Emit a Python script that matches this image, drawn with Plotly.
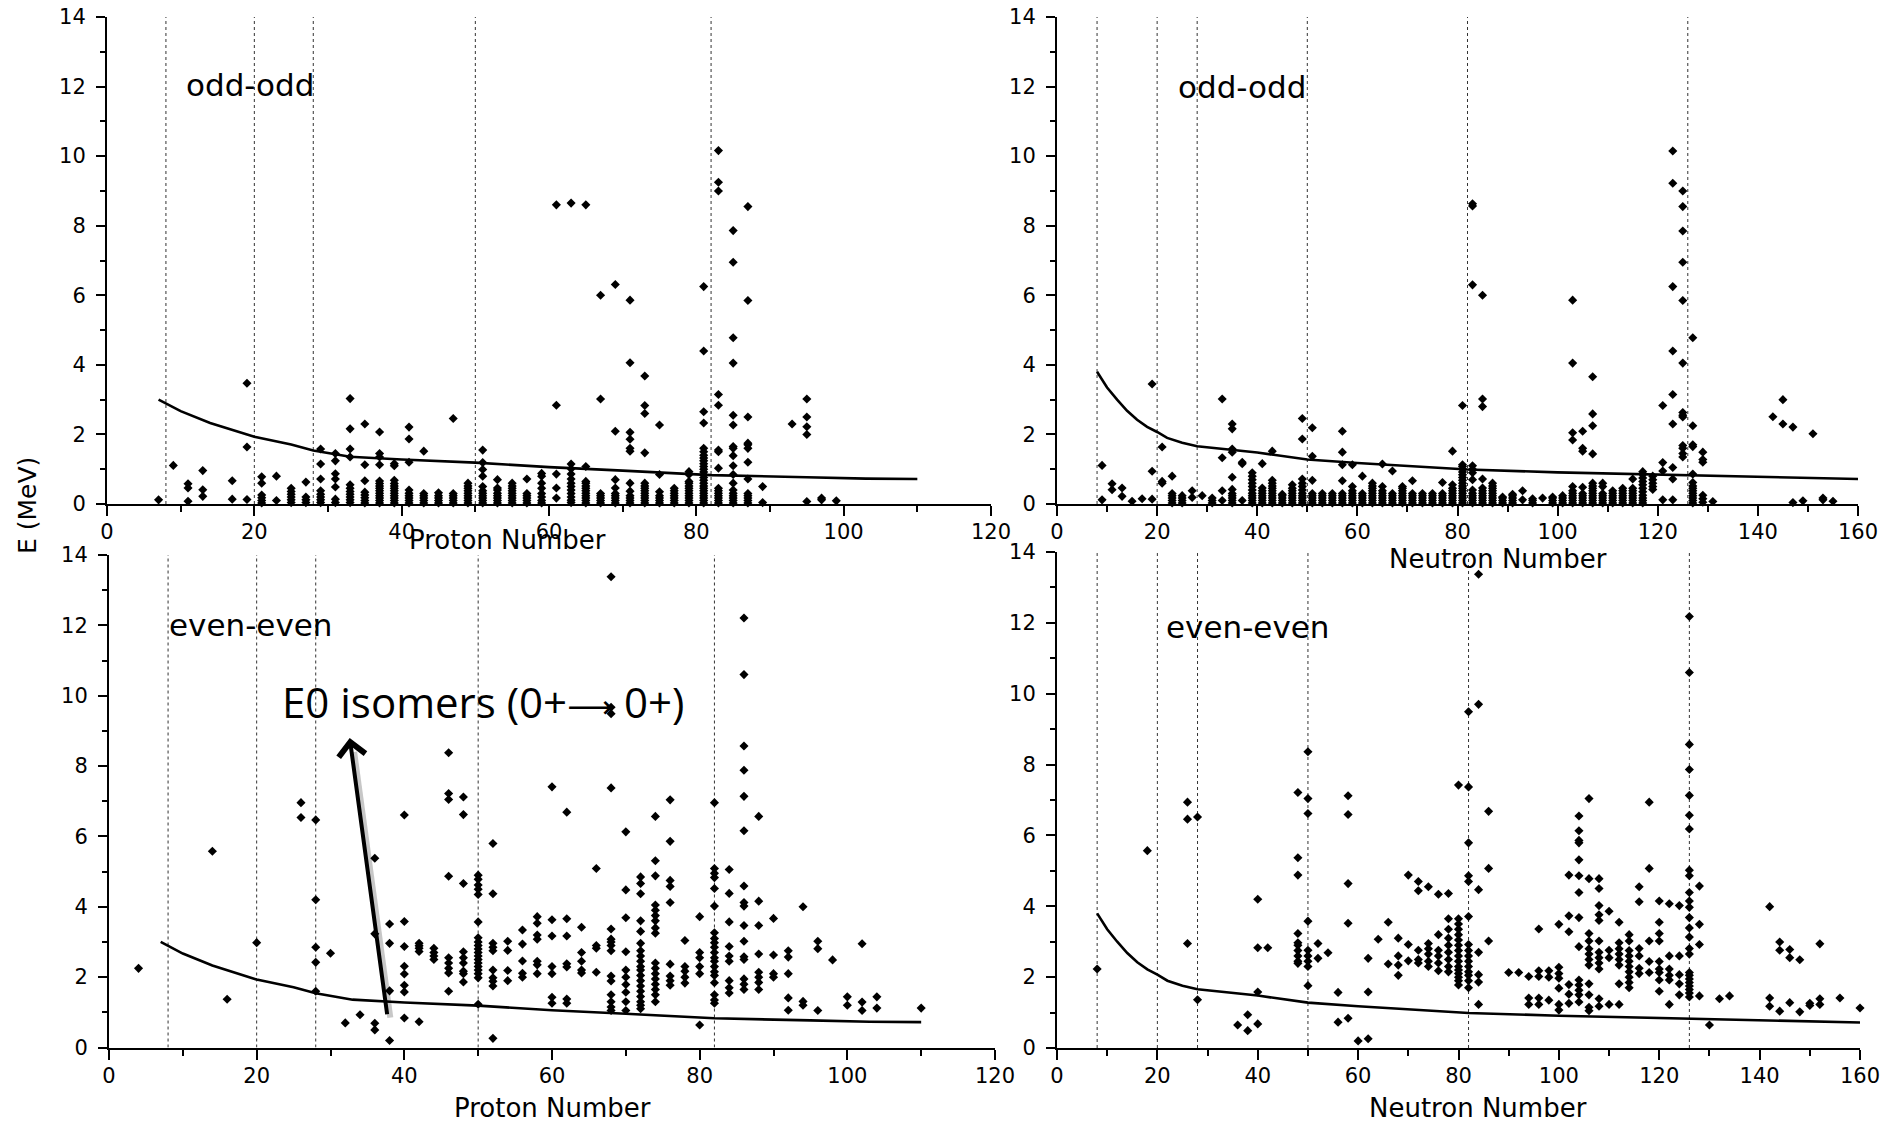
import plotly.graph_objects as go

W, H = 1895, 1124

# ---------------- data: isomer excitation energies (MeV) ----------------
# each entry: (proton or neutron number, [energies at that number])
odd_odd_z = [
    (7, [0.12]), (9, [1.11]), (11, [0.08, 0.46, 0.58]), (13, [0.22, 0.41, 0.96]),
    (17, [0.14, 0.67]), (19, [0.13, 1.64, 3.47]),
    (21, [0.03, 0.1, 0.18, 0.26, 0.6, 0.78]), (23, [0.1, 0.8]),
    (25, [0.04, 0.12, 0.2, 0.28, 0.36, 0.45]), (27, [0.04, 0.12, 0.2, 0.63]),
    (29, [0.04, 0.12, 0.2, 0.28, 0.38, 0.72, 1.15, 1.58]),
    (31, [0.04, 0.14, 0.49, 0.72, 0.87, 1.24, 1.45]),
    (33, [0.04, 0.12, 0.2, 0.28, 0.36, 0.45, 0.55, 1.35, 1.58, 2.16, 3.03]),
    (35, [0.03, 0.1, 0.18, 0.26, 0.34, 0.67, 1.13, 2.3]),
    (37, [0.03, 0.1, 0.17, 0.24, 0.31, 0.38, 0.45, 0.52, 0.59, 0.66, 1.13, 1.35, 1.45, 2.07]),
    (39, [0.03, 0.1, 0.17, 0.24, 0.31, 0.38, 0.45, 0.52, 0.59, 0.68, 1.1, 1.16]),
    (41, [0.03, 0.1, 0.17, 0.24, 0.31, 0.4, 1.2, 1.87, 2.21]),
    (43, [0.03, 0.1, 0.17, 0.24, 0.3, 1.52]),
    (45, [0.03, 0.1, 0.17, 0.24, 0.32]),
    (47, [0.03, 0.1, 0.17, 0.24, 0.3, 2.46]),
    (49, [0.03, 0.1, 0.17, 0.24, 0.31, 0.38, 0.45, 0.52, 0.6]),
    (51, [0.03, 0.1, 0.17, 0.24, 0.31, 0.38, 0.5, 0.8, 0.99, 1.19, 1.55]),
    (53, [0.03, 0.1, 0.17, 0.24, 0.31, 0.4, 0.46, 0.7]),
    (55, [0.03, 0.1, 0.17, 0.24, 0.31, 0.38, 0.45, 0.52, 0.6]),
    (57, [0.03, 0.1, 0.17, 0.24, 0.3, 0.72]),
    (59, [0.03, 0.1, 0.2, 0.3, 0.45, 0.6, 0.8, 0.88]),
    (61, [0.17, 0.46, 0.86, 2.84, 8.6]),
    (63, [0.04, 0.11, 0.2, 0.3, 0.4, 0.5, 0.6, 0.72, 0.86, 1.01, 1.15, 8.65]),
    (65, [0.03, 0.1, 0.17, 0.24, 0.31, 0.38, 0.45, 0.52, 0.6, 0.65, 1.08, 8.6]),
    (67, [0.03, 0.1, 0.17, 0.24, 0.3, 3.02, 6.0]),
    (69, [0.03, 0.1, 0.17, 0.24, 0.3, 0.46, 0.7, 2.09, 6.31]),
    (71, [0.03, 0.1, 0.17, 0.24, 0.37, 0.6, 1.52, 1.6, 1.86, 2.06, 4.06, 5.86]),
    (73, [0.03, 0.1, 0.17, 0.24, 0.31, 0.38, 0.45, 0.52, 0.6, 1.47, 2.6, 2.83, 3.68]),
    (75, [0.03, 0.1, 0.17, 0.24, 0.35, 0.85, 2.27]),
    (77, [0.03, 0.1, 0.17, 0.24, 0.31, 0.38, 0.45]),
    (79, [0.03, 0.1, 0.17, 0.24, 0.31, 0.38, 0.45, 0.52, 0.6, 0.65, 0.85, 0.93]),
    (81, [0.03, 0.1, 0.17, 0.24, 0.31, 0.38, 0.45, 0.52, 0.6, 0.68, 0.76, 0.84, 0.92, 1.0,
          1.08, 1.16, 1.24, 1.32, 1.4, 1.5, 1.6, 2.33, 2.65, 4.4, 6.25]),
    (83, [0.03, 0.1, 0.17, 0.24, 0.31, 0.38, 0.45, 1.03, 1.5, 1.55, 2.84, 3.15, 9.0, 9.25, 10.16]),
    (85, [0.03, 0.1, 0.17, 0.24, 0.31, 0.4, 0.6, 0.85, 1.1, 1.39, 1.6, 1.65, 2.27, 2.55,
          4.05, 4.78, 6.95, 7.86]),
    (87, [0.03, 0.1, 0.17, 0.24, 0.3, 0.72, 1.2, 1.6, 1.7, 1.75, 2.5, 5.85, 8.55]),
    (89, [0.04, 0.5]), (93, [2.3]), (95, [0.07, 2.0, 2.22, 2.5, 3.02]),
    (97, [0.12, 0.17]), (99, [0.09]),
]

odd_odd_n = [
    (9, [0.12, 1.11]), (11, [0.41, 0.58]), (13, [0.22, 0.46]), (15, [0.08]), (17, [0.15]),
    (19, [0.14, 0.94, 3.45]), (21, [0.6, 0.65, 1.64]),
    (23, [0.03, 0.1, 0.17, 0.24, 0.3, 0.8]), (25, [0.03, 0.1, 0.17, 0.24]),
    (27, [0.19, 0.38]), (29, [0.24]), (31, [0.03, 0.1, 0.17]),
    (33, [0.1, 0.38, 1.33, 3.02]),
    (35, [0.03, 0.1, 0.17, 0.24, 0.3, 0.42, 0.77, 1.49, 1.58, 2.16, 2.3]),
    (37, [0.1, 1.16, 1.2]),
    (39, [0.03, 0.1, 0.17, 0.24, 0.31, 0.4, 0.5, 0.6, 0.7, 0.8, 0.9]),
    (41, [0.03, 0.1, 0.17, 0.24, 0.31, 0.38, 0.46, 1.16]),
    (43, [0.03, 0.1, 0.17, 0.24, 0.31, 0.38, 0.45, 0.52, 0.6, 0.68, 1.52]),
    (45, [0.03, 0.1, 0.17, 0.24, 0.28]),
    (47, [0.03, 0.1, 0.17, 0.24, 0.31, 0.38, 0.45, 0.55]),
    (49, [0.03, 0.1, 0.17, 0.24, 0.31, 0.4, 0.5, 0.6, 0.72, 1.87, 2.46]),
    (51, [0.03, 0.1, 0.17, 0.24, 0.3, 0.68, 1.37, 2.19]),
    (53, [0.03, 0.1, 0.17, 0.24, 0.3]), (55, [0.03, 0.1, 0.17, 0.24, 0.3]),
    (57, [0.03, 0.1, 0.17, 0.24, 0.3, 0.67, 1.13, 1.49, 2.09]),
    (59, [0.03, 0.1, 0.17, 0.24, 0.31, 0.38, 0.5, 1.13]),
    (61, [0.03, 0.1, 0.17, 0.24, 0.3, 0.8]),
    (63, [0.03, 0.1, 0.17, 0.24, 0.31, 0.38, 0.45, 0.52, 0.6]),
    (65, [0.03, 0.1, 0.17, 0.24, 0.31, 0.38, 0.5, 1.15]),
    (67, [0.03, 0.1, 0.17, 0.24, 0.3, 0.95]),
    (69, [0.03, 0.1, 0.17, 0.24, 0.31, 0.38, 0.45, 0.5]),
    (71, [0.03, 0.1, 0.17, 0.24, 0.3, 0.67]),
    (73, [0.03, 0.1, 0.17, 0.24, 0.3]), (75, [0.03, 0.1, 0.17, 0.24, 0.3]),
    (77, [0.03, 0.1, 0.17, 0.24, 0.3, 0.62]),
    (79, [0.03, 0.1, 0.17, 0.24, 0.31, 0.38, 0.45, 0.55, 1.52]),
    (81, [0.03, 0.1, 0.17, 0.24, 0.31, 0.38, 0.45, 0.52, 0.6, 0.68, 0.76, 0.84, 0.92, 1.0,
          1.08, 1.13, 2.83]),
    (83, [0.03, 0.1, 0.17, 0.24, 0.31, 0.4, 0.7, 0.9, 1.0, 1.1, 6.3, 8.57, 8.63]),
    (85, [0.03, 0.1, 0.17, 0.24, 0.31, 0.38, 0.46, 0.72, 2.8, 3.02, 6.0]),
    (87, [0.03, 0.1, 0.17, 0.24, 0.31, 0.38, 0.45, 0.52, 0.6]),
    (89, [0.03, 0.1, 0.17, 0.2]), (91, [0.03, 0.1, 0.17, 0.24, 0.28]),
    (93, [0.12, 0.38]), (95, [0.03, 0.1, 0.15]), (97, [0.17]),
    (99, [0.03, 0.1, 0.17, 0.2]), (101, [0.03, 0.1, 0.17, 0.24]),
    (103, [0.03, 0.1, 0.17, 0.24, 0.31, 0.38, 0.5, 1.84, 2.05, 4.05, 5.86]),
    (105, [0.03, 0.1, 0.17, 0.24, 0.3, 0.48, 1.52, 1.6, 2.09]),
    (107, [0.03, 0.1, 0.17, 0.24, 0.31, 0.38, 0.45, 0.52, 0.6, 1.44, 2.25, 2.59, 3.66]),
    (109, [0.03, 0.1, 0.17, 0.24, 0.3, 0.5, 0.6]),
    (111, [0.03, 0.1, 0.17, 0.24, 0.31, 0.38]),
    (113, [0.03, 0.1, 0.17, 0.24, 0.31, 0.38, 0.45]),
    (115, [0.03, 0.1, 0.17, 0.24, 0.31, 0.38, 0.45, 0.72]),
    (117, [0.03, 0.1, 0.17, 0.25, 0.35, 0.45, 0.55, 0.65, 0.75, 0.85, 0.93]),
    (119, [0.42, 0.5, 0.6, 0.7, 0.8]),
    (121, [0.12, 0.95, 1.19, 2.83]),
    (123, [0.12, 0.72, 1.05, 2.3, 3.15, 4.4, 6.25, 9.22, 10.15]),
    (125, [1.35, 1.45, 1.6, 1.68, 2.5, 2.55, 2.63, 4.05, 5.85, 6.95, 7.85, 8.55, 9.0]),
    (127, [0.03, 0.1, 0.17, 0.24, 0.31, 0.38, 0.45, 0.52, 0.62, 0.86, 1.65, 1.7, 2.25, 4.78]),
    (129, [0.05, 0.15, 0.25, 1.2, 1.28, 1.49]), (131, [0.07]),
    (143, [2.51]), (145, [2.3, 3.0]), (147, [0.04, 2.21]), (149, [0.09]),
    (151, [2.02]), (153, [0.12, 0.17]), (155, [0.08]),
]

even_even_z = [
    (4, [2.25]), (14, [5.58]), (16, [1.37]), (20, [2.98]), (26, [6.54, 6.96]),
    (28, [1.6, 2.42, 2.85, 4.2, 6.47]), (30, [2.68]), (32, [0.7]), (34, [0.93]),
    (36, [0.5, 0.69, 3.23, 5.38]), (38, [0.2, 1.61, 2.96, 3.51]),
    (40, [0.84, 1.58, 1.77, 2.09, 2.31, 2.87, 3.58, 6.61]),
    (42, [0.73, 2.73, 2.82, 2.89, 2.96]), (44, [2.5, 2.6, 2.7, 2.82]),
    (46, [1.6, 2.12, 2.25, 2.4, 2.55, 4.87, 7.05, 7.22, 8.38]),
    (48, [1.86, 2.1, 2.17, 2.4, 2.55, 2.72, 4.66, 6.62, 7.12]),
    (50, [1.23, 1.98, 2.1, 2.2, 2.3, 2.4, 2.5, 2.6, 2.7, 2.8, 2.9, 3.0, 3.12, 3.57,
          4.35, 4.5, 4.62, 4.78, 4.9]),
    (52, [0.26, 1.75, 1.88, 1.98, 2.2, 2.75, 2.85, 2.96, 4.37, 5.8]),
    (54, [1.9, 2.19, 2.76, 3.02]), (56, [2.0, 2.11, 2.46, 2.94, 3.34]),
    (58, [2.1, 2.35, 2.45, 3.08, 3.2, 3.53, 3.72]),
    (60, [1.26, 1.43, 2.1, 2.3, 3.17, 3.63, 7.41]),
    (62, [1.26, 1.38, 2.29, 2.38, 3.17, 3.66, 6.69]),
    (64, [2.12, 2.2, 2.45, 2.7, 3.42]), (66, [2.14, 2.82, 2.9, 5.09]),
    (68, [1.05, 1.15, 1.3, 1.5, 1.89, 2.03, 2.75, 2.9, 3.0, 3.08, 3.37, 7.38, 9.49, 9.67, 13.38]),
    (70, [1.05, 1.3, 1.57, 1.79, 2.0, 2.2, 2.72, 3.69, 4.48, 6.13]),
    (72, [1.1, 1.2, 1.3, 1.45, 1.6, 1.75, 1.9, 2.05, 2.2, 2.3, 2.45, 2.6, 2.75, 2.96,
          3.3, 3.6, 4.37, 4.66, 4.85]),
    (74, [1.3, 1.5, 1.65, 1.8, 1.95, 2.1, 2.25, 2.4, 3.25, 3.4, 3.6, 3.75, 3.9, 4.05,
          4.88, 5.31, 6.57]),
    (76, [1.77, 1.9, 2.03, 2.37, 4.12, 4.58, 4.75, 5.86, 7.04]),
    (78, [1.83, 2.0, 2.17, 2.3, 3.04]), (80, [0.64, 2.1, 2.3, 2.55, 2.7, 3.72]),
    (82, [1.26, 1.35, 1.5, 1.84, 2.05, 2.15, 2.3, 2.45, 2.55, 2.7, 2.85, 2.98, 3.1, 3.26,
          4.02, 4.52, 4.83, 4.95, 5.09, 6.96]),
    (84, [1.55, 1.7, 1.9, 2.45, 2.6, 2.87, 3.57, 4.38, 5.06]),
    (86, [1.65, 1.8, 1.95, 2.5, 2.58, 3.02, 3.47, 4.02, 4.12, 4.59, 6.16, 7.14, 7.88,
          8.57, 10.6, 12.21]),
    (88, [1.65, 1.85, 2.0, 2.14, 2.66, 3.47, 4.16, 6.57]),
    (90, [2.0, 2.1, 2.63, 3.67]), (92, [1.06, 1.41, 2.1, 2.57, 2.75]),
    (94, [1.2, 1.31, 4.0]), (96, [1.05, 2.81, 3.02]), (98, [2.49]),
    (100, [1.2, 1.44]), (102, [1.05, 1.29, 2.95]), (104, [1.12, 1.44]), (110, [1.12]),
]

even_even_n = [
    (8, [2.23]), (18, [5.57]), (26, [2.95, 6.46, 6.94]), (28, [1.36, 6.52]),
    (36, [0.65]), (38, [0.49, 0.94]), (40, [0.68, 1.58, 2.83, 4.2]), (42, [2.83]),
    (48, [2.39, 2.45, 2.6, 2.75, 2.9, 2.97, 3.23, 4.88, 5.37, 7.21]),
    (50, [1.76, 2.3, 2.45, 2.6, 2.76, 3.58, 6.62, 7.04, 8.36]),
    (52, [2.53, 2.95]), (54, [2.69]), (56, [0.73, 1.57]),
    (58, [0.84, 3.52, 4.64, 6.59, 7.12]), (60, [0.2]), (62, [0.26, 1.58, 2.53]),
    (64, [3.07]), (66, [2.37, 3.55]), (68, [2.05, 2.34, 2.6, 3.1]),
    (70, [2.46, 2.92, 4.88]), (72, [2.4, 2.5, 2.76, 4.44, 4.7]),
    (74, [2.3, 2.45, 2.65, 2.8, 2.95, 4.55]), (76, [2.18, 2.4, 2.6, 2.76, 3.2, 4.34]),
    (78, [2.15, 2.3, 2.5, 2.7, 2.9, 3.1, 3.35, 3.65, 4.36]),
    (80, [1.78, 1.9, 2.0, 2.1, 2.2, 2.3, 2.45, 2.6, 2.75, 2.9, 3.05, 3.2, 3.35, 3.5,
          3.65, 7.42]),
    (82, [1.7, 1.9, 2.05, 2.15, 2.3, 2.45, 2.6, 2.75, 2.92, 3.71, 4.7, 4.86, 5.79, 7.37, 9.49]),
    (84, [1.23, 1.86, 2.07, 2.7, 4.47, 9.7, 13.37]), (86, [3.02, 5.07, 6.68]),
    (90, [2.13]), (92, [2.13]), (94, [1.23, 1.41, 2.02]),
    (96, [1.23, 1.41, 2.02, 2.18, 3.36]), (98, [1.35, 2.0, 2.18]),
    (100, [1.07, 1.23, 1.69, 1.97, 2.1, 2.28, 3.49]),
    (102, [1.26, 1.52, 1.79, 3.28, 3.73, 4.88]),
    (104, [1.3, 1.5, 1.63, 1.78, 1.92, 2.86, 3.68, 4.39, 4.86, 5.31, 5.79, 5.86, 6.13, 6.55]),
    (106, [1.05, 1.15, 1.5, 1.81, 2.34, 2.5, 2.65, 2.8, 3.02, 3.23, 4.78, 7.04]),
    (108, [1.18, 1.39, 2.23, 2.4, 2.55, 2.7, 3.02, 3.6, 3.76, 4.02, 4.5, 4.78]),
    (110, [1.23, 2.55, 2.76, 3.86]),
    (112, [1.23, 1.81, 2.34, 2.5, 2.65, 2.8, 2.97, 3.55]),
    (114, [1.7, 1.85, 2.0, 2.15, 2.3, 2.45, 2.6, 2.75, 3.02, 3.2]),
    (116, [2.1, 2.25, 2.6, 2.81, 4.13, 4.55]), (118, [2.13, 2.44, 3.02, 5.07, 6.94]),
    (120, [1.6, 1.92, 2.13, 2.23, 2.44, 3.02, 3.23, 3.55, 4.15]),
    (122, [1.23, 1.92, 2.05, 2.23, 2.6, 4.07]), (124, [1.5, 1.81, 2.07, 2.6, 4.02]),
    (126, [1.44, 1.55, 1.65, 1.75, 1.85, 1.95, 2.05, 2.13, 2.65, 2.81, 3.13, 3.39, 3.68,
           3.97, 4.15, 4.39, 4.86, 5.02, 6.18, 6.57, 7.13, 7.86, 8.57, 10.6, 12.18]),
    (128, [1.47, 2.92, 3.49, 4.57]), (130, [0.65]), (132, [1.39]), (134, [1.47]),
    (142, [1.18, 1.41, 3.99]), (144, [1.04, 2.76, 2.99]), (146, [1.28, 2.55, 2.78]),
    (148, [1.02, 2.49]), (150, [1.2, 1.26]), (152, [1.23, 1.39, 2.94]),
    (156, [1.41]), (160, [1.13]),
]

# reference curves
curve_z_x = [7, 10, 14, 20, 25, 28, 33, 40, 50, 60, 70, 82, 95, 103, 110]
curve_z_e = [3.0, 2.67, 2.33, 1.93, 1.71, 1.54, 1.36, 1.28, 1.19, 1.06, 0.96, 0.83, 0.77, 0.73, 0.72]
curve_n_x = [8, 10, 12, 14, 16, 18, 20, 22, 25, 28, 40, 50, 60, 70, 82, 100, 126, 140, 160]
curve_n_e = [3.8, 3.35, 3.0, 2.68, 2.42, 2.22, 2.07, 1.9, 1.76, 1.66, 1.48, 1.28, 1.18, 1.1,
             0.99, 0.91, 0.82, 0.78, 0.72]

# shell closures
magic_z = [8, 20, 28, 50, 82]
magic_n = [8, 20, 28, 50, 82, 126]


def flatten(cols):
    xs, ys = [], []
    for x, energies in cols:
        for e in energies:
            xs.append(x)
            ys.append(e)
    return xs, ys


FONT = "DejaVu Sans"
fig = go.Figure()

panels = [
    # (columns, curve x, curve y, magic numbers, axis suffix)
    (odd_odd_z, curve_z_x, curve_z_e, magic_z, ""),
    (odd_odd_n, curve_n_x, curve_n_e, magic_n, "2"),
    (even_even_z, curve_z_x, curve_z_e, magic_z, "3"),
    (even_even_n, curve_n_x, curve_n_e, magic_n, "4"),
]

shapes = []
for cols, cx, cy, magic, sfx in panels:
    xs, ys = flatten(cols)
    fig.add_trace(go.Scatter(
        x=xs, y=ys, mode="markers", xaxis="x" + sfx, yaxis="y" + sfx,
        marker=dict(symbol="diamond", size=7, color="black", line=dict(width=0)),
        cliponaxis=False, showlegend=False, hoverinfo="skip"))
    fig.add_trace(go.Scatter(
        x=cx, y=cy, mode="lines", xaxis="x" + sfx, yaxis="y" + sfx,
        line=dict(color="black", width=2.6), showlegend=False, hoverinfo="skip"))
    for m in magic:
        shapes.append(dict(type="line", xref="x" + sfx, yref="y" + sfx,
                           x0=m, x1=m, y0=0, y1=14, layer="below",
                           line=dict(color="#333", width=1, dash="3px,3px")))


def xax(domain, xmax):
    return dict(domain=domain, range=[0, xmax], tick0=0, dtick=20,
                showgrid=False, zeroline=False, showline=True, linecolor="black",
                linewidth=2, ticks="outside", ticklen=10, tickwidth=1.5, tickcolor="black",
                minor=dict(dtick=10, ticklen=6, tickwidth=1.5, tickcolor="black",
                           ticks="outside", showgrid=False),
                ticklabelstandoff=-2,
                tickfont=dict(family=FONT, size=21, color="black"), fixedrange=True)


def yax(domain, anchor):
    return dict(domain=domain, range=[0, 14], tick0=0, dtick=2, anchor=anchor,
                showgrid=False, zeroline=False, showline=True, linecolor="black",
                linewidth=2, ticks="outside", ticklen=9, tickwidth=1.5, tickcolor="black",
                minor=dict(dtick=1, ticklen=5, tickwidth=1.5, tickcolor="black",
                           ticks="outside", showgrid=False),
                ticklabelstandoff=6,
                tickfont=dict(family=FONT, size=21, color="black"), fixedrange=True)


def px_x(a, b):
    return [a / W, b / W]


def px_y(top, bottom):
    return [1 - bottom / H, 1 - top / H]


layout = dict(
    width=W, height=H, margin=dict(l=0, r=0, t=0, b=0, autoexpand=False),
    paper_bgcolor="white", plot_bgcolor="white", showlegend=False,
    xaxis=dict(**xax(px_x(107, 991), 120), anchor="y"),
    yaxis=yax(px_y(17, 504), "x"),
    xaxis2=dict(**xax(px_x(1057, 1858), 160), anchor="y2"),
    yaxis2=yax(px_y(17, 504), "x2"),
    xaxis3=dict(**xax(px_x(109, 995), 120), anchor="y3"),
    yaxis3=yax(px_y(555, 1047.5), "x3"),
    xaxis4=dict(**xax(px_x(1057, 1860), 160), anchor="y4"),
    yaxis4=yax(px_y(552, 1048), "x4"),
)

# arrow shadow
shapes.append(dict(type="line", xref="x3", yref="y3", x0=38.1, y0=0.85, x1=33.2, y1=8.4,
                   line=dict(color="rgba(0,0,0,0.22)", width=6)))

annotations = []


def label(text, x, y, size, xanchor="center", yanchor="middle", family=FONT, **kw):
    annotations.append(dict(text=text, x=x / W, y=1 - y / H, xref="paper", yref="paper",
                            xanchor=xanchor, yanchor=yanchor, showarrow=False,
                            font=dict(family=family, size=size, color="black"), **kw))


# axis titles
label("Proton Number", 507, 540, 26)
label("Neutron Number", 1498, 559, 26)
label("Proton Number", 552, 1108, 26)
label("Neutron Number", 1478, 1108, 26)
label("E (MeV)", 28, 506, 25, textangle=-90)

# panel labels
label("odd-odd", 184, 85, 31, xanchor="left")
label("odd-odd", 1176, 87, 31, xanchor="left")
label("even-even", 167, 625, 31, xanchor="left")
label("even-even", 1164, 627, 31, xanchor="left")

# E0 isomer annotation
label("E0 isomers (0+<span style=\"font-family:'DejaVu Sans';font-size:32px\">\u27f6</span> 0+)",
      280, 701, 42, xanchor="left", family="Open Sans")
annotations.append(dict(x=32.6, y=8.8, xref="x3", yref="y3",
                        ax=37.7, ay=0.9, axref="x3", ayref="y3",
                        showarrow=True, arrowhead=4, arrowsize=1.3, arrowwidth=4,
                        arrowcolor="black", text=""))

layout["shapes"] = shapes
layout["annotations"] = annotations
fig.update_layout(**layout)

fig.write_html("out.html")
